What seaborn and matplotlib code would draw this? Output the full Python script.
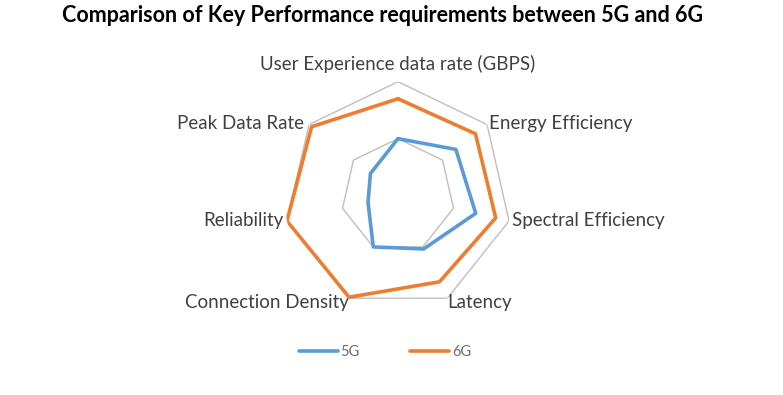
import numpy as np
import pandas as pd
import matplotlib
matplotlib.use("Agg")
import matplotlib.pyplot as plt
import seaborn as sns
from matplotlib.lines import Line2D

categories = ["User Experience data rate (GBPS)", "Energy Efficiency", "Spectral Efficiency",
              "Latency", "Connection Density", "Reliability", "Peak Data Rate"]
values_5g = [50, 65, 70, 52, 50, 27, 31]
values_6g = [85, 87, 88, 84, 99, 100, 97]
series_names = ["5G", "6G"]
ring_levels = [50, 100]
title = "Comparison of Key Performance requirements between 5G and 6G"

sns.set_style("white")
plt.rcParams["font.family"] = ["Lato", "DejaVu Sans"]

colors = {"5G": "#5b9bd5", "6G": "#ed7d31"}
n = len(categories)
theta = np.linspace(0, 2 * np.pi, n, endpoint=False)
closed_theta = np.append(theta, 2 * np.pi)

frames = []
for name, vals in zip(series_names, [values_5g, values_6g]):
    frames.append(pd.DataFrame({"series": name, "theta": closed_theta,
                                "r": list(vals) + [vals[0]]}))
df = pd.concat(frames, ignore_index=True)

fig = plt.figure(figsize=(7.83, 3.95), dpi=100)
R = 113.9
cx, cy = 398, 195.6
ax = fig.add_axes([(cx - R) / 783, (395 - cy - R) / 395, 2 * R / 783, 2 * R / 395], projection="polar")
ax.set_theta_zero_location("N")
ax.set_theta_direction(-1)
ax.set_ylim(0, 100)
ax.grid(False)
ax.spines["polar"].set_visible(False)
ax.set_xticks([])
ax.set_yticks([])
ax.patch.set_alpha(0)

for lv in ring_levels:
    ax.plot(closed_theta, [lv] * (n + 1), color="#bfbfbf", lw=1.0, zorder=1)

sns.lineplot(data=df, x="theta", y="r", hue="series", palette=colors, sort=False,
             estimator=None, units="series", lw=2.6, ax=ax, legend=False, zorder=3)
ax.set_xlabel("")
ax.set_ylabel("")

label_cfg = [
    ("center", "center", (0, 18)),
    ("left", "center", (2, 1)),
    ("left", "center", (3, 0)),
    ("left", "center", (0, -4)),
    ("right", "center", (0, -4)),
    ("right", "center", (-3, 0)),
    ("right", "center", (-5, 1)),
]
for i, (lab, (ha, va, off)) in enumerate(zip(categories, label_cfg)):
    ax.annotate(lab, xy=(theta[i], 100), xytext=off, textcoords="offset pixels",
                ha=ha, va=va, fontsize=13.5, color="#404040", annotation_clip=False)

fig.text(382.5 / 783, 1 - 16 / 395, title, ha="center", va="center", fontsize=15.5,
         fontweight="bold", color="#000000")

handles = [Line2D([], [], color=colors[s], lw=2.6) for s in series_names]
fig.legend(handles, series_names, loc="center", bbox_to_anchor=(0.4914, 1 - 352 / 395), ncol=2,
           frameon=False, fontsize=10.5, labelcolor="#6e6e6e", handlelength=2.67,
           handletextpad=0.2, columnspacing=3.45)

fig.savefig("out.png", dpi=100)
